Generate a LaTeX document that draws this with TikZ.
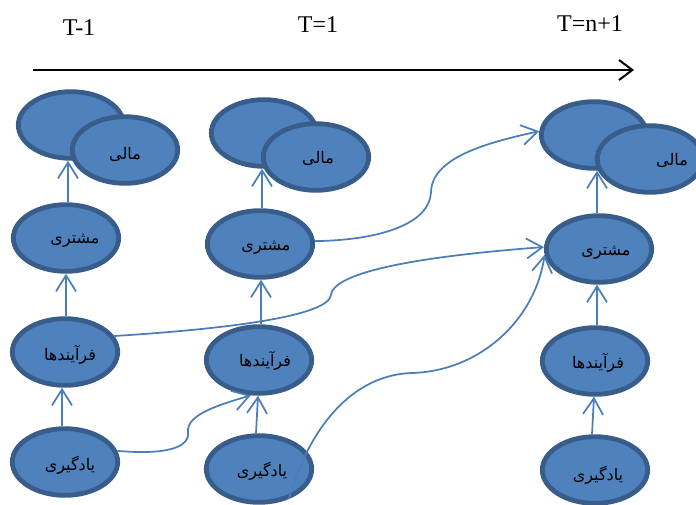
\documentclass[tikz,border=0pt]{standalone}
\usepackage{fontspec}
\setmainfont{Liberation Serif}
\newfontfamily\fafont[Script=Arabic]{DejaVu Sans}
\TeXXeTstate=1
\usetikzlibrary{shapes.geometric,arrows.meta}
\definecolor{nodefill}{HTML}{4F81BD}
\definecolor{nodeline}{HTML}{385D8A}
\definecolor{linkblue}{HTML}{4A7EBB}

\begin{document}
\begin{tikzpicture}[x=0.75pt,y=-0.75pt,
  perspective/.style={ellipse, draw=nodeline, fill=nodefill, line width=3.6pt,
    minimum width=79pt, minimum height=50pt, inner sep=0pt},
  fatext/.style={font=\fafont\fontsize{12}{14}\selectfont, inner sep=0pt},
  tlabel/.style={font=\fontsize{18}{21}\selectfont, inner sep=0pt},
  link/.style={draw=linkblue, line width=1.3pt,
    -{Straight Barb[length=12pt,width=15pt,line width=1.3pt]}},
  timeline/.style={draw=black, line width=1.5pt,
    -{Straight Barb[length=10pt,width=15pt,line width=1.5pt]}}
]
\useasboundingbox (0,0) rectangle (696,504);

% time axis
\node[tlabel] (l1) at (79,28) {T-1};
\node[tlabel] (l2) at (318,25) {T=1};
\node[tlabel] (l3) at (590,24) {T=n+1};
\coordinate (ts) at (33,70);
\coordinate (te) at (634,70);
\draw[timeline] (ts) -- (te);

% period T-1
\node[perspective] (b1) at (71,125) {};
\node[perspective] (f1) at (125,150) {};
\node[perspective] (m1) at (66,238) {};
\node[perspective] (p1) at (65,352) {};
\node[perspective] (y1) at (65,462) {};

% period T=1
\node[perspective] (b2) at (264,133) {};
\node[perspective] (f2) at (316,157) {};
\node[perspective] (m2) at (260,244) {};
\node[perspective] (p2) at (259,360) {};
\node[perspective] (y2) at (259,469) {};

% period T=n+1
\node[perspective] (b3) at (594,135) {};
\node[perspective] (f3) at (650,159) {};
\node[perspective] (m3) at (599,249) {};
\node[perspective] (p3) at (595,361) {};
\node[perspective] (y3) at (595,470) {};

% perspective names
\node[fatext] (tf1) at (125,154) {\beginR مالی\endR};
\node[fatext] (tm1) at (75,241) {\beginR مشتری\endR};
\node[fatext] (tp1) at (70,355) {\beginR فرآیندها\endR};
\node[fatext] (ty1) at (70,465) {\beginR یادگیری\endR};

\node[fatext] (tf2) at (318,158) {\beginR مالی\endR};
\node[fatext] (tm2) at (266,248) {\beginR مشتری\endR};
\node[fatext] (tp2) at (265,361) {\beginR فرآیندها\endR};
\node[fatext] (ty2) at (262,471) {\beginR یادگیری\endR};

\node[fatext] (tf3) at (672,160) {\beginR مالی\endR};
\node[fatext] (tm3) at (606,253) {\beginR مشتری\endR};
\node[fatext] (tp3) at (598,363) {\beginR فرآیندها\endR};
\node[fatext] (ty3) at (598,475) {\beginR یادگیری\endR};

% links within each period
\draw[link] (y1.north -| 62,0) -- (p1.south -| 62,0);
\draw[link] (p1.north -| 66,0) -- (m1.south -| 66,0);
\draw[link] (m1.north -| 68,0) -- (b1.south -| 68,0);

\draw[link] (y2.north -| 256,0) -- (p2.south -| 258,0);
\draw[link] (p2.north -| 261,0) -- (m2.south -| 261,0);
\draw[link] (m2.north -| 262,0) -- (b2.south -| 262,0);

\draw[link] (y3.north -| 592,0) -- (p3.south -| 594,0);
\draw[link] (p3.north -| 597,0) -- (m3.south -| 597,0);
\draw[link] (m3.north -| 597,0) -- (b3.south -| 597,0);

% links between periods
\draw[link] (y1.12) .. controls (165,455) and (190,448) .. (188,432)
  .. controls (186,414) and (222,404) .. (p2.-103);
\draw[link] (p1.18) .. controls (210,330) and (328,318) .. (331,295)
  .. controls (334,268) and (450,254) .. (m3.178);
\draw[link] (m2.3) .. controls (385,240) and (430,222) .. (431,192)
  .. controls (432,158) and (485,143) .. (b3.176);
\draw[link] (y2.-45) .. controls (305,440) and (345,375) .. (412,373)
  .. controls (480,371) and (535,320) .. (m3.-174);
\end{tikzpicture}
\end{document}
